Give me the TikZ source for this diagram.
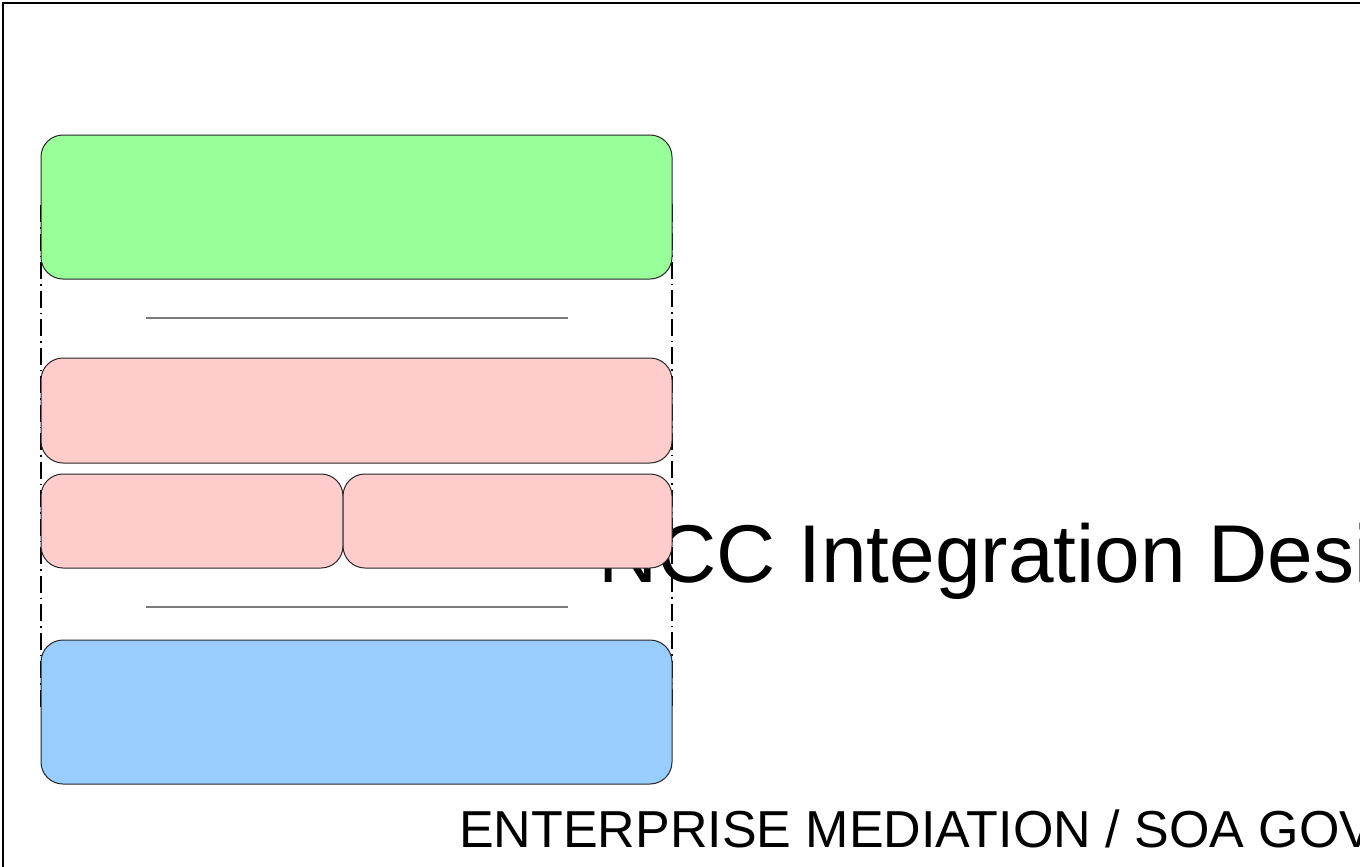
\documentclass[tikz,border=0pt]{standalone}
\usepackage{fontspec}
\setmainfont{Liberation Sans}
\definecolor{boxgreen}{HTML}{99FF99}
\definecolor{boxpink}{HTML}{FFCCCC}
\definecolor{boxblue}{HTML}{99CCFF}
\definecolor{sepgray}{HTML}{7A7A7A}
\begin{document}
\begin{tikzpicture}[x=1pt,y=-1pt,
  layerbox/.style={draw=black!85, line width=1pt, rounded corners=22pt, anchor=north west,
    inner sep=0pt, outer sep=0pt},
  groupline/.style={draw=black, line width=1.8pt, dash pattern=on 17pt off 5pt on 1.5pt off 5pt},
  sepline/.style={draw=sepgray, line width=2.3pt},
  frameline/.style={draw=black, line width=2.5pt}]
\useasboundingbox (0,0) rectangle (1360,867);
\clip (0,0) rectangle (1360,867);
\fill[white] (0,0) rectangle (1360,867);
\draw[frameline] (3,3) rectangle (1420,920);
% titles
\node[anchor=base west, inner sep=0pt, font=\fontsize{82}{98}\selectfont] (title) at (598,582) {NCC Integration Desi};
\node[anchor=base west, inner sep=0pt, font=\fontsize{52}{62}\selectfont] (subtitle) at (459,847) {ENTERPRISE MEDIATION / SOA GOV};
% group outline
\coordinate (gtl) at (41,205);
\coordinate (gbr) at (672,710);
\draw[groupline] (gtl) rectangle (gbr);
% boxes
\node[layerbox, fill=boxgreen, minimum width=631pt, minimum height=144pt] (green) at (41,135) {};
\node[layerbox, fill=boxpink, minimum width=631pt, minimum height=105pt] (pinktop) at (41,358) {};
\node[layerbox, fill=boxpink, minimum width=302pt, minimum height=94pt] (pinkleft) at (41,474) {};
\node[layerbox, fill=boxpink, minimum width=329pt, minimum height=94pt] (pinkright) at (343,474) {};
\node[layerbox, fill=boxblue, minimum width=631pt, minimum height=144pt] (blue) at (41,640) {};
% separators
\coordinate (s1a) at (146,318);
\coordinate (s1b) at (568,318);
\coordinate (s2a) at (146,607);
\coordinate (s2b) at (568,607);
\draw[sepline] (s1a) -- (s1b);
\draw[sepline] (s2a) -- (s2b);
\end{tikzpicture}
\end{document}
